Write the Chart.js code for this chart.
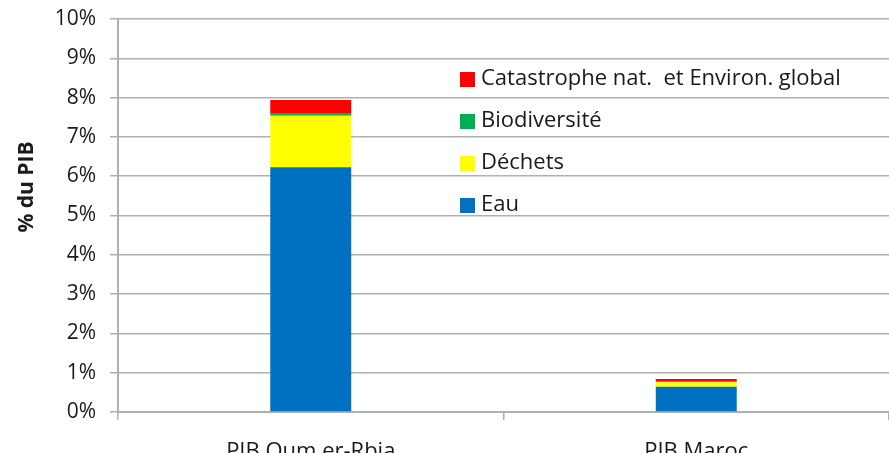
<!DOCTYPE html>
<html lang="fr">
<head>
    <meta charset="UTF-8">
    <title>% du PIB</title>
    <script src="https://cdn.jsdelivr.net/npm/chart.js@4.4.1/dist/chart.umd.min.js"></script>
    <style>
        html, body {margin: 0; padding: 0; background: #fff; overflow: hidden;}
        #box {width: 889px; height: 453px; position: relative;}
    </style>
</head>
<body>
<div id="box"><canvas id="chart"></canvas></div>
<script>
    // categories + valeurs (en % du PIB)
    const categories = ['PIB Oum er-Rbia', 'PIB Maroc'];
    const eau = [6.23, 0.64];
    const dechets = [1.31, 0.12];
    const biodiv = [0.05, 0.02];
    const catastrophe = [0.35, 0.06];
    const yTicks = [0, 1, 2, 3, 4, 5, 6, 7, 8, 9, 10];
    const yTitle = '% du PIB';

    const FONT = '"Open Sans", "Liberation Sans", sans-serif';
    const TXT = '#1a1a1a';
    const gridCol = '#b0b0b0';

    // legende + titre de l'axe Y dessines a la main (comme excel)
    const extras = {
        id: 'extras',
        afterDraw(chart) {
            const ctx = chart.ctx;
            const ds = chart.data.datasets.slice().reverse();
            ctx.save();
            ctx.font = '22px ' + FONT;
            ctx.textBaseline = 'middle';
            ds.forEach((d, i) => {
                const y = 79 + i * 42;
                ctx.fillStyle = d.backgroundColor;
                ctx.fillRect(460, y - 7, 15, 15);
                ctx.fillStyle = TXT;
                ctx.fillText(d.label, 481, y);
            });
            // titre vertical
            ctx.translate(27, 187);
            ctx.rotate(-Math.PI / 2);
            ctx.textAlign = 'center';
            ctx.font = 'bold 21px ' + FONT;
            ctx.fillText(yTitle, 0, 0);
            ctx.restore();
        }
    };

    new Chart(document.getElementById('chart'), {
        type: 'bar',
        data: {
            labels: categories,
            datasets: [
                {label: 'Eau', data: eau, backgroundColor: '#0070c0'},
                {label: 'Déchets', data: dechets, backgroundColor: '#ffff00'},
                {label: 'Biodiversité', data: biodiv, backgroundColor: '#00b050'},
                {label: 'Catastrophe nat.  et Environ. global', data: catastrophe, backgroundColor: '#ff0000'}
            ]
        },
        options: {
            responsive: true,
            maintainAspectRatio: false,
            animation: false,
            layout: {padding: {top: 19, right: -5, left: 1, bottom: 0}},
            datasets: {bar: {categoryPercentage: 1, barPercentage: 0.21, borderWidth: 0}},
            plugins: {legend: {display: false}, tooltip: {enabled: false}},
            scales: {
                x: {
                    stacked: true,
                    offset: true,
                    grid: {display: true, drawOnChartArea: false, offset: true, color: gridCol, lineWidth: 1.5, tickLength: 8},
                    border: {color: gridCol, width: 2},
                    ticks: {color: TXT, font: {family: FONT, size: 22}, padding: 19, maxRotation: 0},
                    afterFit(s) { s.height = 41; s.paddingLeft = 0; s.paddingRight = 0; }
                },
                y: {
                    stacked: true,
                    min: 0,
                    max: 10,
                    afterBuildTicks(s) { s.ticks = yTicks.map(v => ({value: v})); },
                    grid: {color: gridCol, lineWidth: 1.5, tickLength: 8},
                    border: {color: gridCol, width: 2},
                    ticks: {color: TXT, font: {family: FONT, size: 21}, padding: 14, callback: v => v + '%'},
                    afterFit(s) { s.width = 117; s.paddingTop = 0; s.paddingBottom = 0; }
                }
            }
        },
        plugins: [extras]
    });
</script>
</body>
</html>
